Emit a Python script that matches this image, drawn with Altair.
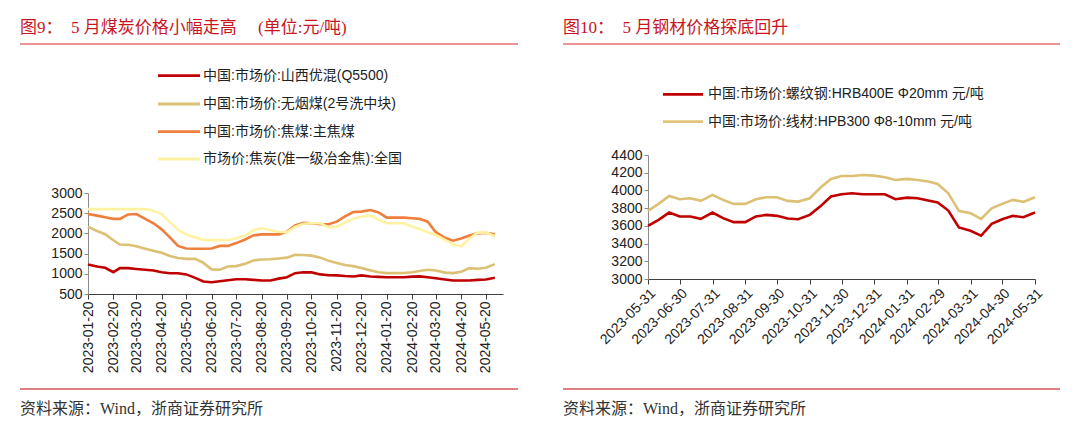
import altair as alt
import pandas as pd
from datetime import datetime, timezone

# ---------------- data: left panel (coal) ----------------
left_dates = ["2023-01-20","2023-01-31","2023-02-10","2023-02-20","2023-02-28","2023-03-10","2023-03-20","2023-03-31",
              "2023-04-10","2023-04-20","2023-04-30","2023-05-10","2023-05-20","2023-05-31","2023-06-10","2023-06-20",
              "2023-06-30","2023-07-10","2023-07-20","2023-07-31","2023-08-10","2023-08-20","2023-08-31","2023-09-10",
              "2023-09-20","2023-09-30","2023-10-10","2023-10-20","2023-10-31","2023-11-10","2023-11-20","2023-11-30",
              "2023-12-10","2023-12-20","2023-12-31","2024-01-10","2024-01-20","2024-01-31","2024-02-10","2024-02-20",
              "2024-02-29","2024-03-10","2024-03-20","2024-03-31","2024-04-10","2024-04-20","2024-04-30","2024-05-10",
              "2024-05-20","2024-05-31"]
shanxi_mix = [1230,1180,1150,1040,1140,1140,1120,1100,1080,1040,1015,1015,985,900,810,790,815,840,865,865,
              850,835,835,880,915,1015,1040,1035,985,965,960,945,935,960,935,925,915,915,915,930,
              935,915,890,860,835,835,835,850,860,900]
anthracite = [2160,2060,1980,1830,1725,1720,1680,1620,1570,1520,1440,1390,1370,1370,1270,1110,1100,1180,1190,1250,
              1330,1355,1360,1380,1400,1470,1467,1450,1400,1320,1270,1220,1190,1145,1085,1040,1017,1017,1020,1040,
              1070,1100,1083,1030,1017,1050,1140,1125,1150,1240]
coking_coal = [2480,2440,2400,2360,2360,2470,2480,2360,2250,2100,1900,1690,1625,1620,1620,1625,1690,1690,1760,1850,
               1950,1975,1975,1975,2040,2200,2260,2250,2230,2225,2290,2420,2530,2540,2580,2520,2390,2390,2390,2375,
               2360,2290,2030,1890,1820,1875,1950,2000,2015,1980]
coke = [2600,2600,2600,2600,2600,2600,2600,2600,2560,2480,2280,2090,1975,1900,1840,1833,1833,1833,1880,1940,
        2080,2125,2080,2040,2025,2160,2240,2250,2250,2150,2167,2270,2360,2420,2440,2340,2250,2250,2250,2170,
        2110,2030,1960,1840,1730,1683,1870,2020,2025,1930]
left_names = ["中国:市场价:山西优混(Q5500)", "中国:市场价:无烟煤(2号洗中块)",
              "中国:市场价:焦煤:主焦煤", "市场价:焦炭(准一级冶金焦):全国"]
left_colors = ["#C00000", "#DCC074", "#EE7E3C", "#FFF2A2"]
left_ticks = ["2023-01-20","2023-02-20","2023-03-20","2023-04-20","2023-05-20","2023-06-20","2023-07-20",
              "2023-08-20","2023-09-20","2023-10-20","2023-11-20","2023-12-20","2024-01-20","2024-02-20",
              "2024-03-20","2024-04-20","2024-05-20"]
left_xdomain = ["2023-01-20", "2024-06-10"]
left_yticks = [500, 1000, 1500, 2000, 2500, 3000]

# ---------------- data: right panel (steel) ----------------
right_dates = ["2023-05-31","2023-06-10","2023-06-20","2023-06-30","2023-07-10","2023-07-20","2023-07-31","2023-08-10",
               "2023-08-20","2023-08-31","2023-09-10","2023-09-20","2023-09-30","2023-10-10","2023-10-20","2023-10-31",
               "2023-11-10","2023-11-20","2023-11-30","2023-12-10","2023-12-20","2023-12-31","2024-01-10","2024-01-20",
               "2024-01-31","2024-02-10","2024-02-20","2024-02-29","2024-03-10","2024-03-20","2024-03-31","2024-04-10",
               "2024-04-20","2024-04-30","2024-05-10","2024-05-20","2024-05-31"]
rebar = [3600,3668,3750,3706,3706,3679,3750,3687,3642,3642,3706,3724,3713,3683,3675,3724,3820,3931,3957,3968,
         3957,3957,3957,3901,3919,3912,3886,3863,3773,3582,3544,3488,3623,3675,3713,3698,3750]
wire_rod = [3769,3848,3938,3901,3912,3882,3950,3893,3848,3848,3901,3923,3923,3882,3874,3912,4030,4130,4163,4163,
            4175,4167,4148,4118,4130,4118,4100,4073,3968,3769,3743,3679,3799,3848,3893,3871,3923]
right_names = ["中国:市场价:螺纹钢:HRB400E Φ20mm 元/吨", "中国:市场价:线材:HPB300 Φ8-10mm 元/吨"]
right_colors = ["#C00000", "#E0C47C"]
right_ticks = ["2023-05-31","2023-06-30","2023-07-31","2023-08-31","2023-09-30","2023-10-31","2023-11-30",
               "2023-12-31","2024-01-31","2024-02-29","2024-03-31","2024-04-30","2024-05-31"]
right_xdomain = ["2023-05-31", "2024-05-31"]
right_yticks = [3000, 3200, 3400, 3600, 3800, 4000, 4200, 4400]

NB = "\u00a0"
title_left = "图9：" + NB * 2 + "5" + NB + "月煤炭价格小幅走高" + NB * 5 + "(单位:元/吨)"
title_right = "图10：" + NB * 2 + "5" + NB + "月钢材价格探底回升"
source_text = "资料来源：Wind，浙商证券研究所"

# ---------------- styling ----------------
SANS = "Liberation Sans, Noto Sans CJK SC"
SERIF = "Liberation Serif, Noto Sans CJK SC"
TITLE_RED = "#C9161E"
RULE_RED = "#D8262B"
LBL = "#222222"
FS = 14


def ms(s):
    return int(datetime.strptime(s, "%Y-%m-%d").replace(tzinfo=timezone.utc).timestamp() * 1000)


one = pd.DataFrame({"k": [0]})


def txt(x, y, s, size, color, font):
    return alt.Chart(one).mark_text(text=s, align="left", baseline="middle", fontSize=size,
                                    color=color, font=font).encode(x=alt.value(x), y=alt.value(y))


def hrule(x1, x2, y, color, w):
    return alt.Chart(one).mark_rule(color=color, strokeWidth=w).encode(
        x=alt.value(x1), x2=alt.value(x2), y=alt.value(y))


def line_layer(dates, series, names, colors, xdom, ticks, ydom, yticks, yrange, angle):
    rows = []
    for name, vals in zip(names, series):
        for d, v in zip(dates, vals):
            rows.append({"t": ms(d), "v": v, "s": name})
    df = pd.DataFrame(rows)
    yscale = alt.Scale(domain=ydom, nice=False, zero=False)
    if yrange is not None:
        yscale = alt.Scale(domain=ydom, nice=False, zero=False, range=yrange)
    return alt.Chart(df).mark_line(strokeWidth=2.6).encode(
        x=alt.X("t:T", title=None,
                scale=alt.Scale(type="utc", domain=[ms(xdom[0]), ms(xdom[1])], nice=False),
                axis=alt.Axis(values=[ms(t) for t in ticks],
                              labelExpr="utcFormat(datum.value, '%Y-%m-%d')",
                              labelAngle=angle, labelFont="Liberation Sans", labelFontSize=FS,
                              labelColor=LBL, domainColor="#404040", tickColor="#404040",
                              tickSize=5, labelPadding=2, grid=False, labelOverlap=False)),
        y=alt.Y("v:Q", title=None, scale=yscale,
                axis=alt.Axis(values=yticks, format="d", labelFont="Liberation Sans", labelFontSize=FS,
                              labelColor=LBL, domainColor="#8C8C8C", tickColor="#8C8C8C",
                              tickSize=4, labelPadding=2, grid=False)),
        color=alt.Color("s:N", scale=alt.Scale(domain=names, range=colors), legend=None),
    )


# left panel: plot origin at page (88,155)
LW, LH = 415, 139
left_lines = line_layer(left_dates, [shanxi_mix, anthracite, coking_coal, coke], left_names, left_colors,
                        left_xdomain, left_ticks, [500, 3000], left_yticks, [139, 38], -90)
left_parts = [
    alt.Chart(one).mark_rule(opacity=0).encode(x=alt.value(-80), x2=alt.value(-79), y=alt.value(-147)),
    txt(-68, -127, title_left, 17, TITLE_RED, SERIF),
    hrule(-68, 430, -111, RULE_RED, 1),
    left_lines,
]
legend_y_left = [-79.3, -51, -23.3, 4]
for name, col, yy in zip(left_names, left_colors, legend_y_left):
    left_parts.append(hrule(70, 112, yy, col, 2.8))
    left_parts.append(txt(115, yy, name, FS, LBL, SANS))
left_parts.append(hrule(-68, 430, 234, "#C00000", 1))
left_parts.append(txt(-68, 254, source_text, 16, "#333333", SERIF))
left_panel = alt.layer(*left_parts).properties(width=LW, height=LH)

# right panel: plot origin at page (648,155)
RW, RH = 387, 124
right_lines = line_layer(right_dates, [rebar, wire_rod], right_names, right_colors,
                         right_xdomain, right_ticks, [3000, 4400], right_yticks, None, -45)
right_parts = [
    txt(-85, -127, title_right, 17, TITLE_RED, SERIF),
    hrule(-85, 412, -111, RULE_RED, 1),
    right_lines,
]
legend_y_right = [-60.7, -33.3]
for name, col, yy in zip(right_names, right_colors, legend_y_right):
    right_parts.append(hrule(15, 55, yy, col, 2.8))
    right_parts.append(txt(60, yy, name, FS, LBL, SANS))
right_parts.append(hrule(-85, 412, 234, "#C00000", 1))
right_parts.append(txt(-85, 254, source_text, 16, "#333333", SERIF))
right_panel = alt.layer(*right_parts).properties(width=RW, height=RH)

chart = alt.hconcat(left_panel, right_panel, spacing=145, bounds="flush").properties(
    padding=0, background="white"
).configure_view(stroke=None)

chart.save("out.html", embed_options={"renderer": "svg", "actions": False})
